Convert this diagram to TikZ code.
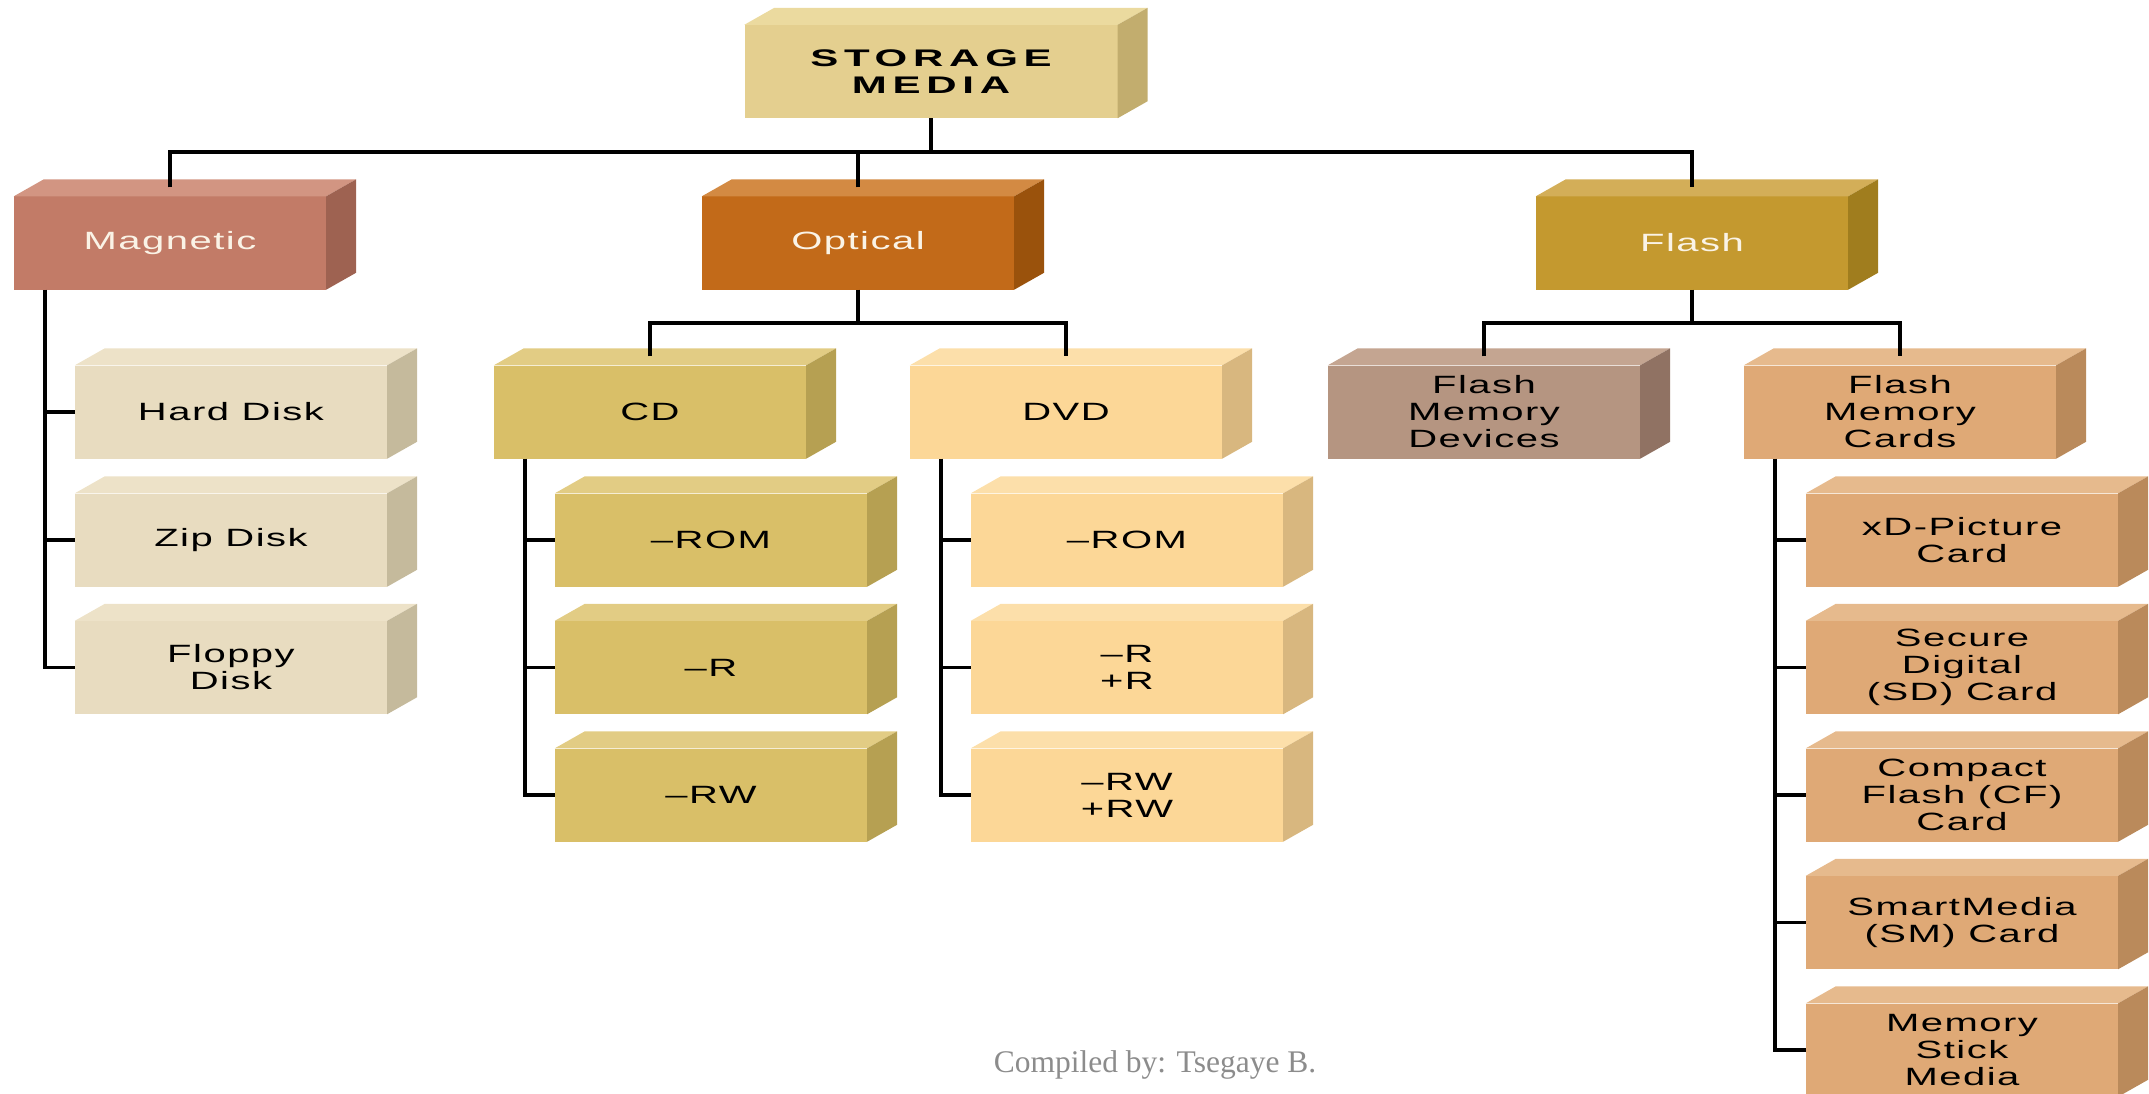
\documentclass[tikz,border=0pt]{standalone}
\usepackage{fontspec}
\setmainfont{Liberation Sans}
\newfontfamily\boxfont{Liberation Sans}[FakeStretch=1.6,LetterSpace=6]
\newfontfamily\rootfont{Liberation Sans}[FakeStretch=1.75,LetterSpace=24]
\newfontfamily\footfont{Liberation Serif}
\usetikzlibrary{calc}

% front / top / side shades of each box family
\definecolor{rootF}{HTML}{E4CF8F}\definecolor{rootT}{HTML}{EBDA9F}\definecolor{rootS}{HTML}{C2AD6E}
\definecolor{magF}{HTML}{C27B67}\definecolor{magT}{HTML}{D29582}\definecolor{magS}{HTML}{9E6251}
\definecolor{optF}{HTML}{C26A19}\definecolor{optT}{HTML}{D38A43}\definecolor{optS}{HTML}{9A520C}
\definecolor{flsF}{HTML}{C4992F}\definecolor{flsT}{HTML}{D3AE58}\definecolor{flsS}{HTML}{A07D1E}
\definecolor{dskF}{HTML}{E8DCC0}\definecolor{dskT}{HTML}{EDE2C8}\definecolor{dskS}{HTML}{C5BA9C}
\definecolor{cdF}{HTML}{D9BF68}\definecolor{cdT}{HTML}{E2CC84}\definecolor{cdS}{HTML}{B6A052}
\definecolor{dvdF}{HTML}{FCD797}\definecolor{dvdT}{HTML}{FCDFAA}\definecolor{dvdS}{HTML}{D8B77F}
\definecolor{fmdF}{HTML}{B59581}\definecolor{fmdT}{HTML}{C4A591}\definecolor{fmdS}{HTML}{907263}
\definecolor{fmcF}{HTML}{DFA976}\definecolor{fmcT}{HTML}{E6BA8D}\definecolor{fmcS}{HTML}{BA8A5B}
\definecolor{lighttext}{HTML}{FAF3E6}
\definecolor{footgray}{HTML}{8C8C8C}

% top and side faces of a cuboid whose front face is node #1
\newcommand\boxfaces[3]{%
  \fill[#2] (#1.north west) -- ++(30,-17) -- ($(#1.north east)+(30,-17)$) -- (#1.north east) -- cycle;
  \fill[#3] (#1.north east) -- ++(30,-17) -- ($(#1.south east)+(30,-17)$) -- (#1.south east) -- cycle;
}

\tikzset{
  box/.style={minimum width=312pt, minimum height=93pt, inner sep=0pt, align=center,
    font=\boxfont\fontsize{25}{27}\selectfont, text=black},
  rootbox/.style={box, minimum width=373pt, font=\rootfont\bfseries\fontsize{24}{27}\selectfont},
  lighttxt/.style={text=lighttext},
  link/.style={line width=3.5pt, black},
}

\begin{document}
\begin{tikzpicture}[x=1pt, y=-1pt]
\useasboundingbox (0,0) rectangle (2149,1094);

% root and first level
\node[rootbox, fill=rootF] (root) at (931,71.5) {STORAGE\\MEDIA};
\node[box, lighttxt, fill=magF] (mag) at (170,243) {Magnetic};
\node[box, lighttxt, fill=optF] (opt) at (858,243) {Optical};
\node[box, lighttxt, fill=flsF] (fls) at (1692,243) {Flash};

% magnetic media
\node[box, fill=dskF] (hard) at (231,412) {Hard Disk};
\node[box, fill=dskF] (zip) at (231,540) {Zip Disk};
\node[box, fill=dskF] (floppy) at (231,667.5) {Floppy\\Disk};

% optical media
\node[box, fill=cdF] (cd) at (650,412) {CD};
\node[box, fill=dvdF] (dvd) at (1066,412) {DVD};
\node[box, fill=cdF] (cdrom) at (711,540) {–ROM};
\node[box, fill=cdF] (cdr) at (711,667.5) {–R};
\node[box, fill=cdF] (cdrw) at (711,795) {–RW};
\node[box, fill=dvdF] (dvdrom) at (1127,540) {–ROM};
\node[box, fill=dvdF] (dvdr) at (1127,667.5) {–R\\+R};
\node[box, fill=dvdF] (dvdrw) at (1127,795) {–RW\\+RW};

% flash media
\node[box, fill=fmdF] (fmd) at (1484,412) {Flash\\Memory\\Devices};
\node[box, fill=fmcF] (fmc) at (1900,412) {Flash\\Memory\\Cards};
\node[box, fill=fmcF] (xd) at (1962,540) {xD-Picture\\Card};
\node[box, fill=fmcF] (sd) at (1962,667.5) {Secure\\Digital\\(SD) Card};
\node[box, fill=fmcF] (cf) at (1962,795) {Compact\\Flash (CF)\\Card};
\node[box, fill=fmcF] (sm) at (1962,922.5) {SmartMedia\\(SM) Card};
\node[box, fill=fmcF] (ms) at (1962,1050) {Memory\\Stick\\Media};

% 3-D faces
\boxfaces{root}{rootT}{rootS}
\boxfaces{mag}{magT}{magS}
\boxfaces{opt}{optT}{optS}
\boxfaces{fls}{flsT}{flsS}
\foreach \n in {hard,zip,floppy}{\boxfaces{\n}{dskT}{dskS}}
\foreach \n in {cd,cdrom,cdr,cdrw}{\boxfaces{\n}{cdT}{cdS}}
\foreach \n in {dvd,dvdrom,dvdr,dvdrw}{\boxfaces{\n}{dvdT}{dvdS}}
\boxfaces{fmd}{fmdT}{fmdS}
\foreach \n in {fmc,xd,sd,cf,sm,ms}{\boxfaces{\n}{fmcT}{fmcS}}

% bus lines
\coordinate (rootbus) at (931,152);
\coordinate (optbus) at (858,323);
\coordinate (flsbus) at (1692,323);
\draw[link] (root.south) -- (rootbus);
\draw[link] ($(mag.north)+(0,-9)$) |- (rootbus) -| ($(fls.north)+(0,-9)$);
\draw[link] ($(opt.north)+(0,-9)$) -- (opt.north |- rootbus);
\draw[link] (opt.south) -- (optbus);
\draw[link] ($(cd.north)+(0,-9)$) |- (optbus) -| ($(dvd.north)+(0,-9)$);
\draw[link] (fls.south) -- (flsbus);
\draw[link] ($(fmd.north)+(0,-9)$) |- (flsbus) -| ($(fmc.north)+(0,-9)$);

% trunks with side branches
\draw[link] ($(mag.south west)+(31,0)$) |- (floppy.west);
\foreach \n in {hard,zip}{\draw[link] (\n.west) -- ++(-31,0);}
\draw[link] ($(cd.south west)+(31,0)$) |- (cdrw.west);
\foreach \n in {cdrom,cdr}{\draw[link] (\n.west) -- ++(-31,0);}
\draw[link] ($(dvd.south west)+(31,0)$) |- (dvdrw.west);
\foreach \n in {dvdrom,dvdr}{\draw[link] (\n.west) -- ++(-31,0);}
\draw[link] ($(fmc.south west)+(31,0)$) |- (ms.west);
\foreach \n in {xd,sd,cf,sm}{\draw[link] (\n.west) -- ++(-31,0);}

% credit line
\node[anchor=base, font=\footfont\fontsize{31.5}{36}\selectfont, text=footgray] (credit) at (1155,1072) {Compiled by: Tsegaye B.};
\end{tikzpicture}
\end{document}
